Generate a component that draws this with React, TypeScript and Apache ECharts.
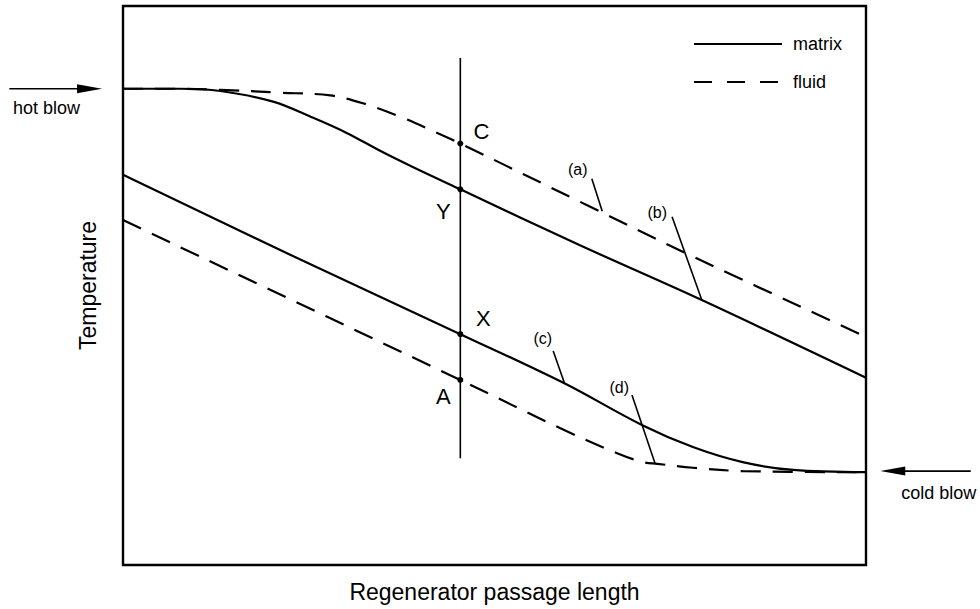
import { useEffect, useRef } from "react";
import * as echarts from "echarts";

// Temperature profiles along the regenerator passage (length 0–100, temperature 0–100)
const upperFluidX = [0, 7.7, 13.1, 21.1, 27.9, 32.3, 37.3, 42.3, 45.4, 62.4, 75.4, 100];
const upperFluidY = [85.2, 85.2, 85.0, 84.5, 84.0, 82.6, 80.2, 77.3, 75.4, 64.4, 56.0, 40.8];

const upperMatrixX = [0, 7.7, 13.1, 20.2, 25.6, 30.1, 34.6, 39.0, 45.4, 61.5, 77.9, 100];
const upperMatrixY = [85.2, 85.2, 84.8, 82.9, 80.0, 77.3, 74.1, 71.2, 67.2, 57.2, 47.4, 33.5];

const lowerMatrixX = [0, 22.5, 45.4, 59.4, 69.9, 76.7, 83.4, 90.2, 100];
const lowerMatrixY = [69.8, 55.5, 41.3, 32.5, 25.0, 21.1, 18.4, 17.0, 16.6];

const lowerFluidX = [0, 45.4, 58.8, 66.5, 70.0, 71.9, 76.7, 83.4, 100];
const lowerFluidY = [61.7, 33.1, 24.5, 20.0, 18.4, 18.1, 17.4, 16.8, 16.6];

// Section line through the four state points
const sectionX = 45.4;
const sectionYRange = [19.1, 90.7];

const stateNames = ["C", "Y", "X", "A"];
const stateY = [75.4, 67.2, 41.3, 33.1];

// Curve tags with their leader lines
const tagNames = ["(a)", "(b)", "(c)", "(d)"];
const tagTextX = [61.2, 71.9, 56.5, 66.8];
const tagTextY = [70.7, 63.1, 40.6, 31.8];
const leaderFromX = [63.1, 73.9, 57.9, 68.5];
const leaderFromY = [69.1, 62.3, 38.3, 30.4];
const leaderToX = [64.5, 77.9, 59.4, 71.6];
const leaderToY = [63.3, 47.4, 32.6, 18.2];

// Flow direction arrows at either end of the passage
const hotBlowShaft = [[-15.3, 85.2], [-4.6, 85.2]];
const hotBlowHead = [-4.5, 85.2];
const hotBlowText = [-10.3, 81.7];
const coldBlowShaft = [[114.1, 16.8], [103.6, 16.8]];
const coldBlowHead = [103.6, 16.8];
const coldBlowText = [109.8, 12.9];

const FONT = '"Liberation Sans", Arial, Helvetica, sans-serif';

const zip = (xs: number[], ys: number[]) => xs.map((x, i) => [x, ys[i]]);

const curve = (name: string, pts: number[][], dashed: boolean) => ({
  type: "line",
  name,
  data: pts,
  symbol: "none",
  smooth: 0.35,
  color: "#000",
  lineStyle: { color: "#000", width: 2.2, type: dashed ? [20, 12] : "solid" },
  silent: true,
  z: 3,
});

const plainLine = (pts: number[][], width: number) => ({
  type: "line",
  data: pts,
  symbol: "none",
  color: "#000",
  lineStyle: { color: "#000", width },
  clip: false,
  silent: true,
  z: 4,
});

const textPoint = (pos: number[], text: string, size: number) => ({
  type: "scatter",
  data: [pos],
  symbol: "circle",
  symbolSize: 1,
  itemStyle: { color: "rgba(0,0,0,0)", opacity: 1 },
  clip: false,
  silent: true,
  label: {
    show: true,
    position: "inside",
    formatter: text,
    color: "#000",
    textBorderWidth: 0,
    fontSize: size,
    fontFamily: FONT,
  },
});

const stateOffsets = [
  [21, -12],
  [-17, 22],
  [23, -16],
  [-17, 17],
];

export default function App() {
  const ref = useRef<HTMLDivElement>(null);

  useEffect(() => {
    const chart = echarts.init(ref.current!, null, { renderer: "svg" });

    const series: any[] = [
      curve("matrix", zip(upperMatrixX, upperMatrixY), false),
      curve("fluid", zip(upperFluidX, upperFluidY), true),
      curve("matrix", zip(lowerMatrixX, lowerMatrixY), false),
      curve("fluid", zip(lowerFluidX, lowerFluidY), true),
      plainLine(
        [
          [sectionX, sectionYRange[0]],
          [sectionX, sectionYRange[1]],
        ],
        1.6
      ),
      {
        type: "scatter",
        silent: true,
        symbol: "circle",
        symbolSize: 6,
        itemStyle: { color: "#000", opacity: 1 },
        z: 5,
        data: stateNames.map((n, i) => ({
          value: [sectionX, stateY[i]],
          label: {
            show: true,
            position: "inside",
            formatter: n,
            offset: stateOffsets[i],
            color: "#000",
            textBorderWidth: 0,
            fontSize: 22,
            fontFamily: FONT,
          },
        })),
      },
      ...tagNames.map((_, i) =>
        plainLine(
          [
            [leaderFromX[i], leaderFromY[i]],
            [leaderToX[i], leaderToY[i]],
          ],
          1.6
        )
      ),
      ...tagNames.map((t, i) => textPoint([tagTextX[i], tagTextY[i]], t, 16)),
      {
        type: "scatter",
        silent: true,
        clip: false,
        symbol: "triangle",
        symbolSize: [9, 25],
        itemStyle: { color: "#000", opacity: 1 },
        data: [
          { value: hotBlowHead, symbolRotate: -90 },
          { value: coldBlowHead, symbolRotate: 90 },
        ],
      },
      textPoint(hotBlowText, "hot blow", 18),
      textPoint(coldBlowText, "cold blow", 18),
    ];

    chart.setOption({
      animation: false,
      backgroundColor: "#fff",
      grid: {
        left: 123,
        right: 114,
        top: 6,
        bottom: 44,
        show: true,
        borderColor: "#000",
        borderWidth: 2.4,
        backgroundColor: "transparent",
      },
      legend: {
        orient: "vertical",
        left: 688,
        top: 30,
        itemWidth: 88,
        itemHeight: 14,
        itemGap: 20,
        selectedMode: false,
        itemStyle: { color: "rgba(0,0,0,0)", borderColor: "rgba(0,0,0,0)", borderWidth: 0 },
        data: [
          { name: "matrix" },
          { name: "fluid", lineStyle: { type: [18, 15] } },
        ],
        textStyle: {
          fontSize: 18,
          fontFamily: FONT,
          color: "#000",
          padding: [0, 0, 0, 6],
        },
      },
      xAxis: {
        type: "value",
        min: 0,
        max: 100,
        name: "Regenerator passage length",
        nameLocation: "middle",
        nameGap: 15,
        nameTextStyle: { fontSize: 23, fontFamily: FONT, color: "#000" },
        axisLine: { show: false },
        axisTick: { show: false },
        axisLabel: { show: false },
        splitLine: { show: false },
      },
      yAxis: {
        type: "value",
        min: 0,
        max: 100,
        name: "Temperature",
        nameLocation: "middle",
        nameGap: 24,
        nameTextStyle: { fontSize: 23, fontFamily: FONT, color: "#000" },
        axisLine: { show: false },
        axisTick: { show: false },
        axisLabel: { show: false },
        splitLine: { show: false },
      },
      series,
    });

    // Arrow shafts lie outside the plotting area, so place them through the grid's own scale
    const toPx = (v: number[]) => chart.convertToPixel({ gridIndex: 0 }, v) as number[];
    const shaft = (pts: number[][]) => {
      const a = toPx(pts[0]);
      const b = toPx(pts[1]);
      return {
        type: "line",
        silent: true,
        shape: { x1: a[0], y1: a[1], x2: b[0], y2: b[1] },
        style: { stroke: "#000", lineWidth: 1.6 },
      };
    };
    chart.setOption({ graphic: [shaft(hotBlowShaft), shaft(coldBlowShaft)] });

    return () => chart.dispose();
  }, []);

  return (
    <div
      ref={ref}
      style={{ position: "fixed", left: 0, top: 0, width: 980, height: 609, background: "#fff" }}
    />
  );
}
